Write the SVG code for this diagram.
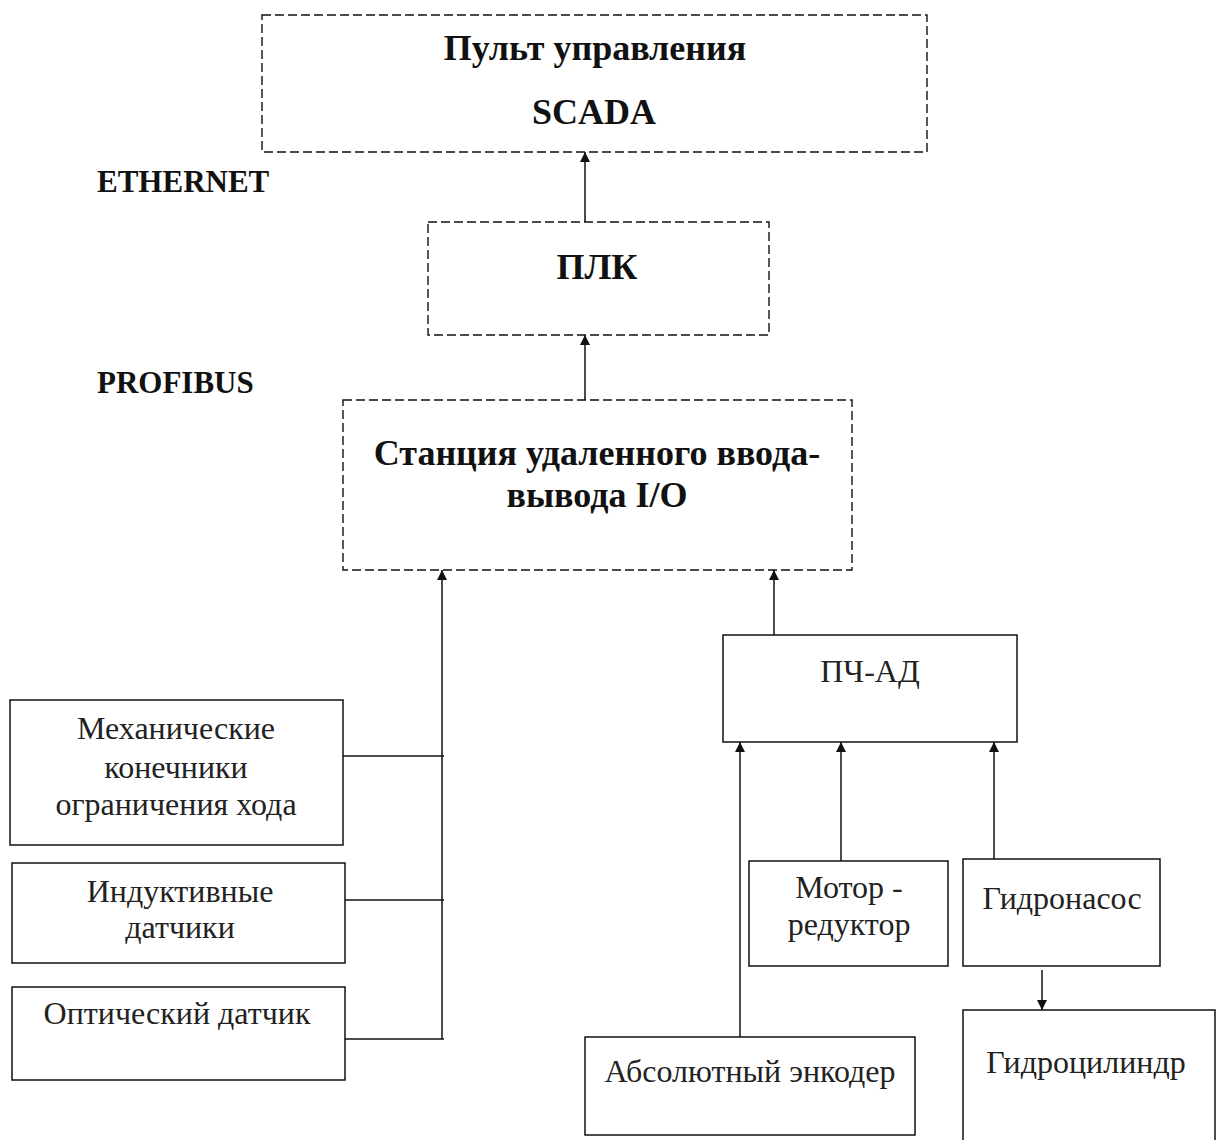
<svg xmlns="http://www.w3.org/2000/svg" width="1219" height="1140" viewBox="0 0 1219 1140">
  <style>
    .dash { fill: #fff; stroke: #111; stroke-width: 1.4; stroke-dasharray: 9 4; }
    .box { fill: #fff; stroke: #111; stroke-width: 1.5; }
    .head { font-family: "Liberation Serif", "Times New Roman", serif; font-weight: bold; font-size: 36px; fill: #111; text-anchor: middle; }
    .bus { font-family: "Liberation Serif", "Times New Roman", serif; font-weight: bold; font-size: 31px; fill: #111; }
    .lbl { font-family: "Liberation Serif", "Times New Roman", serif; font-size: 32px; fill: #222; text-anchor: middle; }
    .wire { fill: none; stroke: #111; stroke-width: 1.5; }
    .arrow { fill: none; stroke: #111; stroke-width: 1.5; marker-end: url(#tip); }
  </style>
  <defs>
    <marker id="tip" viewBox="0 0 10 10" refX="10" refY="5" markerWidth="12" markerHeight="10" markerUnits="userSpaceOnUse" orient="auto">
      <path d="M0,0 L10,5 L0,10 z" fill="#111"/>
    </marker>
  </defs>
  <rect width="1219" height="1140" fill="#fff"/>

  <!-- bus labels -->
  <text class="bus" x="97" y="192">ETHERNET</text>
  <text class="bus" x="97" y="393">PROFIBUS</text>

  <g id="scada">
    <rect class="dash" x="262" y="15" width="665" height="137"/>
    <text class="head" x="595" y="60">Пульт управления</text>
    <text class="head" x="594" y="124">SCADA</text>
  </g>

  <g id="plc">
    <rect class="dash" x="428" y="222" width="341" height="113"/>
    <text class="head" x="597" y="279">ПЛК</text>
  </g>

  <g id="remote-io">
    <rect class="dash" x="343" y="400" width="509" height="170"/>
    <text class="head" x="597" y="465">Станция удаленного ввода-</text>
    <text class="head" x="597" y="507">вывода I/O</text>
  </g>

  <g id="vfd">
    <rect class="box" x="723" y="635" width="294" height="107"/>
    <text class="lbl" x="870" y="682">ПЧ-АД</text>
  </g>

  <g id="limit-switches">
    <rect class="box" x="10" y="700" width="333" height="145"/>
    <text class="lbl" x="176" y="739">Механические</text>
    <text class="lbl" x="176" y="778">конечники</text>
    <text class="lbl" x="176" y="815">ограничения хода</text>
  </g>

  <g id="inductive-sensors">
    <rect class="box" x="12" y="863" width="333" height="100"/>
    <text class="lbl" x="180" y="902">Индуктивные</text>
    <text class="lbl" x="180" y="938">датчики</text>
  </g>

  <g id="optical-sensor">
    <rect class="box" x="12" y="987" width="333" height="93"/>
    <text class="lbl" x="177" y="1024">Оптический  датчик</text>
  </g>

  <g id="gearmotor">
    <rect class="box" x="749" y="861" width="199" height="105"/>
    <text class="lbl" x="849" y="898">Мотор -</text>
    <text class="lbl" x="849" y="935">редуктор</text>
  </g>

  <g id="pump">
    <rect class="box" x="963" y="859" width="197" height="107"/>
    <text class="lbl" x="1062" y="909">Гидронасос</text>
  </g>

  <g id="encoder">
    <rect class="box" x="585" y="1037" width="330" height="98"/>
    <text class="lbl" x="750" y="1082">Абсолютный  энкодер</text>
  </g>

  <g id="cylinder">
    <rect class="box" x="963" y="1010" width="252" height="140"/>
    <text class="lbl" x="1086" y="1073">Гидроцилиндр</text>
  </g>

  <g id="connectors">
    <line class="arrow" x1="585" y1="222" x2="585" y2="152"/>
    <line class="arrow" x1="585" y1="400" x2="585" y2="335"/>
    <line class="arrow" x1="442" y1="1039" x2="442" y2="570"/>
    <line class="wire" x1="343" y1="756" x2="444" y2="756"/>
    <line class="wire" x1="345" y1="900" x2="444" y2="900"/>
    <line class="wire" x1="345" y1="1039" x2="444" y2="1039"/>
    <line class="arrow" x1="774" y1="635" x2="774" y2="570"/>
    <line class="arrow" x1="740" y1="1037" x2="740" y2="742"/>
    <line class="arrow" x1="841" y1="861" x2="841" y2="742"/>
    <line class="arrow" x1="994" y1="859" x2="994" y2="742"/>
    <line class="arrow" x1="1042" y1="970" x2="1042" y2="1010"/>
  </g>
</svg>
